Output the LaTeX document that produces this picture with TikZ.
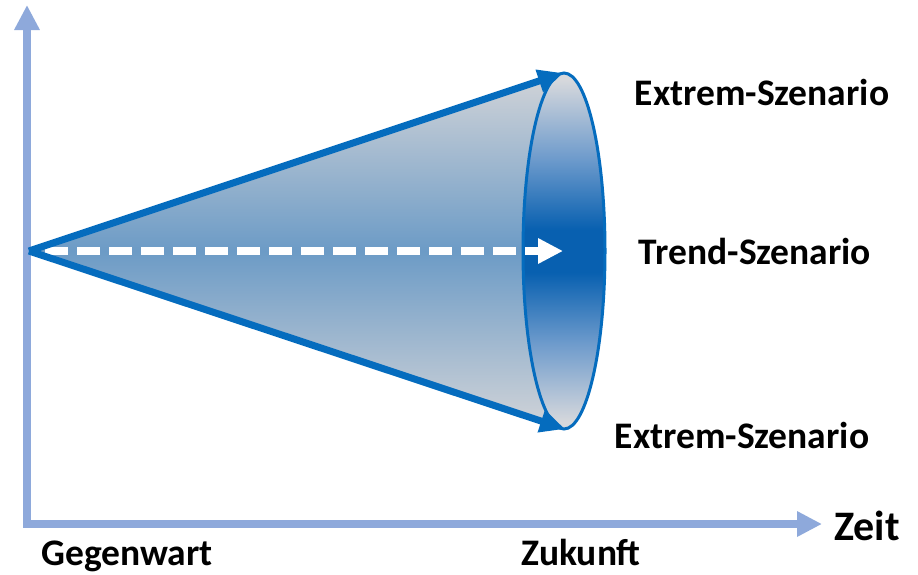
\documentclass[tikz,border=0pt]{standalone}
\usepackage{fontspec}
\setmainfont{Carlito}
\usetikzlibrary{arrows.meta}
\definecolor{axisblue}{RGB}{142,169,219}
\definecolor{conedge}{RGB}{5,108,190}
\definecolor{conegray}{RGB}{210,212,216}
\definecolor{coneblue}{RGB}{108,155,198}
\definecolor{ellgray}{RGB}{214,216,220}
\definecolor{ellmid}{RGB}{110,155,204}
\definecolor{elldark}{RGB}{8,96,176}
\pgfdeclareverticalshading{ellshade}{100bp}{color(0bp)=(ellgray); color(26bp)=(ellgray); color(37bp)=(ellmid); color(47bp)=(elldark); color(53bp)=(elldark); color(63bp)=(ellmid); color(74bp)=(ellgray); color(100bp)=(ellgray)}
\tikzset{
  lbl/.style={font=\bfseries\fontsize{37.5}{42}\selectfont, inner sep=0pt, anchor=base, text=black},
  axisline/.style={draw=axisblue, line width=7.5pt, {Triangle[length=25pt,width=24pt]}-{Triangle[length=25pt,width=24pt]}},
  conearrow/.style={draw=conedge, line width=7pt, -{Triangle[length=25pt,width=22pt]}},
  trendarrow/.style={draw=white, line width=8pt, dash pattern=on 23pt off 9pt, -{Triangle[length=25pt,width=24pt]}}
}
\begin{document}
\begin{tikzpicture}[x=1pt,y=-1pt]
\useasboundingbox (0,0) rectangle (918,574);
% coordinates
\coordinate (ytip) at (27,5);
\coordinate (origin) at (27,524);
\coordinate (xtip) at (822,524);
\coordinate (apex) at (29,251);
\coordinate (top) at (563,73);
\coordinate (bot) at (565,429);
\coordinate (trendstart) at (45,251);
\coordinate (trendend) at (563,251);
% cone fill
\shade[top color=conegray, bottom color=conegray, middle color=coneblue] (apex) -- (top) -- (bot) -- cycle;
% ellipse
\path[shading=ellshade, draw=conedge, line width=3pt] (564,251) ellipse [x radius=41, y radius=178];
% axes
\draw[axisline] (ytip) -- (origin) -- (xtip);
% trend arrow
\draw[trendarrow] (trendstart) -- (trendend);
% cone edges
\draw[conearrow] (apex) -- (top);
\draw[conearrow] (apex) -- (bot);
% labels
\node[lbl] (ex1) at (762,105) {Extrem-Szenario};
\node[lbl] (trend) at (755,264) {Trend-Szenario};
\node[lbl] (ex2) at (742,448) {Extrem-Szenario};
\node[lbl, font=\bfseries\fontsize{42}{46}\selectfont] (zeit) at (867,540) {Zeit};
\node[lbl] (gegen) at (127,565) {Gegenwart};
\node[lbl] (zuk) at (581,565) {Zukunft};
\end{tikzpicture}
\end{document}
